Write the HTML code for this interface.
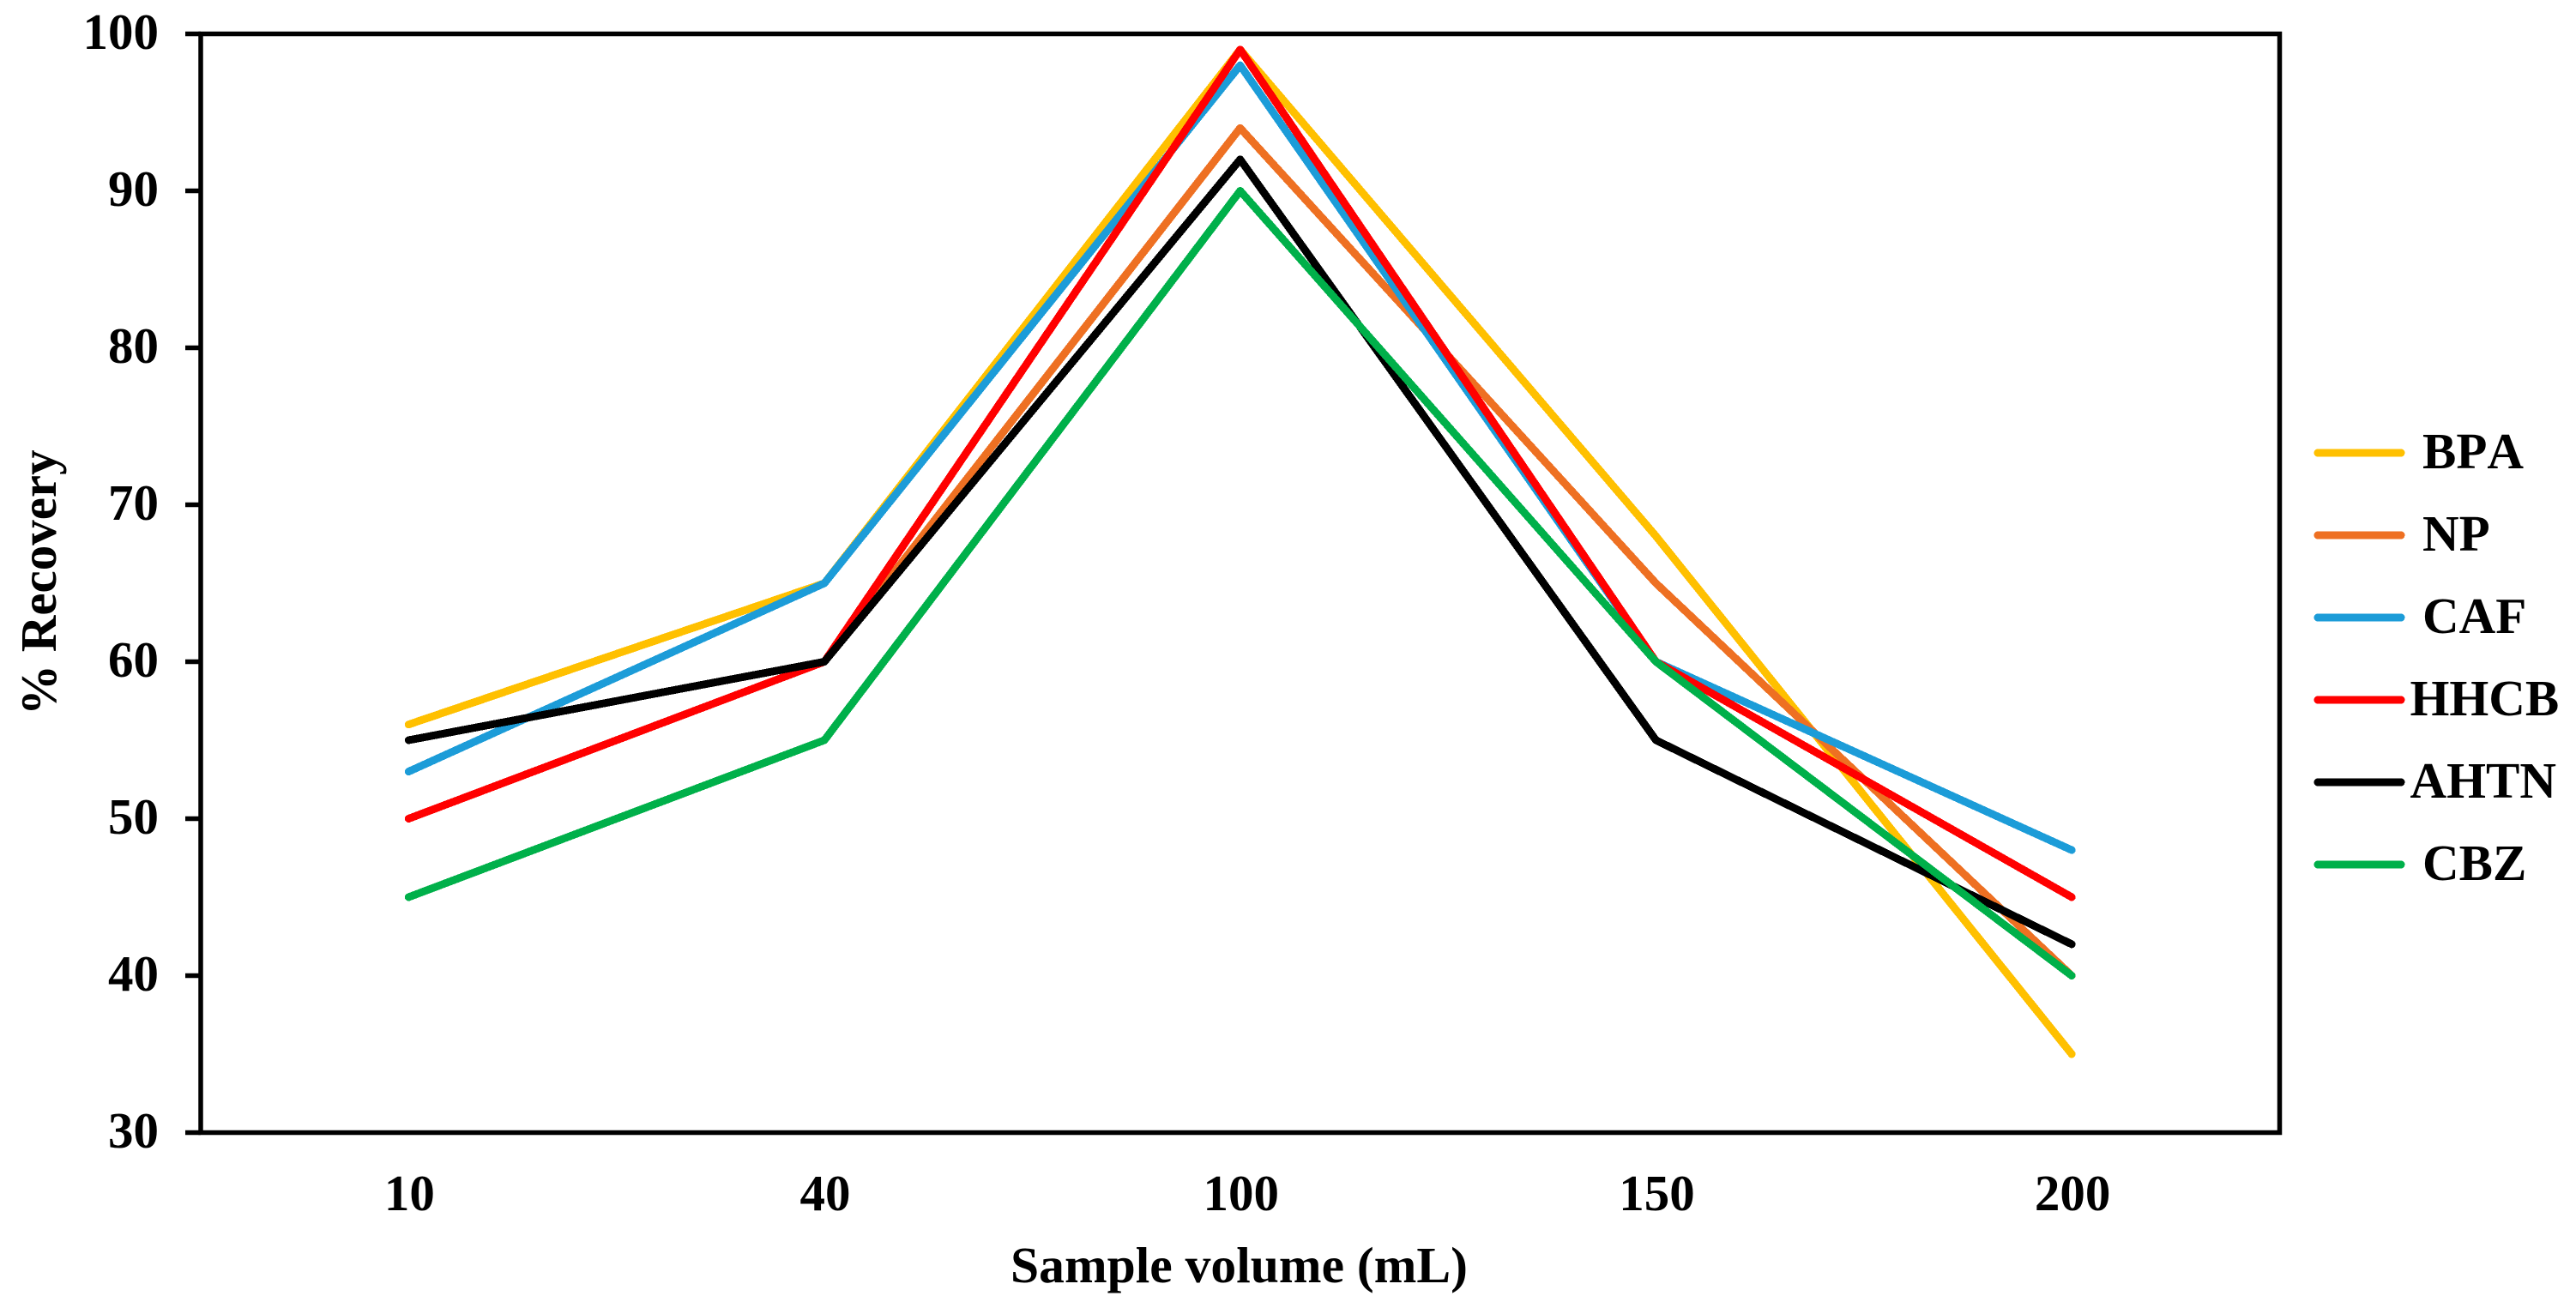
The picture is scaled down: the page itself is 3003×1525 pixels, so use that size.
<!DOCTYPE html>
<html lang="en">
<head>
<meta charset="utf-8">
<title>% Recovery vs Sample volume</title>
<style>
html,body{margin:0;padding:0;background:#fff;width:3003px;height:1525px;overflow:hidden}
svg{display:block}
text{font-family:"Liberation Serif","Times New Roman",serif;font-weight:700;font-size:59px;fill:#000;font-kerning:none}
</style>
</head>
<body>
<svg id="chart" xmlns="http://www.w3.org/2000/svg" width="3003" height="1525" viewBox="0 0 3003 1525">
  <rect x="0" y="0" width="3003" height="1525" fill="#fff"/>
  <g id="series-layer"></g>
  <g id="axis-layer"></g>
  <g id="legend-layer"></g>
  <text x="1178" y="1495" style="font-size:59.6px">Sample volume (mL)</text>
  <text transform="translate(65 834) rotate(-90)">% Recovery</text>
</svg>
<script>
const categories = ['10', '40', '100', '150', '200'];
const yTickValues = [30, 40, 50, 60, 70, 80, 90, 100];
const seriesNames = ['BPA', 'NP', 'CAF', 'HHCB', 'AHTN', 'CBZ'];
const seriesColors = ['#FFC000', '#EE7022', '#1C9CD8', '#FF0000', '#000000', '#00B04A'];
const bpaValues = [56, 65, 99, 68, 35];
const npValues = [55, 60, 94, 65, 40];
const cafValues = [53, 65, 98, 60, 48];
const hhcbValues = [50, 60, 99, 60, 45];
const ahtnValues = [55, 60, 92, 55, 42];
const cbzValues = [45, 55, 90, 60, 40];
const seriesValues = [bpaValues, npValues, cafValues, hhcbValues, ahtnValues, cbzValues];

const NS = 'http://www.w3.org/2000/svg';
const plotLeft = 234, plotRight = 2657.5, plotTop = 39.5, plotBottom = 1320.5;
const yMin = 30, yMax = 100;

function xScale(i) {
  const band = (plotRight - plotLeft) / categories.length;
  return plotLeft + band * (i + 0.5);
}
function yScale(v) {
  return plotBottom - (v - yMin) / (yMax - yMin) * (plotBottom - plotTop);
}
function make(tag, attrs, parent) {
  const el = document.createElementNS(NS, tag);
  Object.keys(attrs).forEach(function (k) { el.setAttribute(k, attrs[k]); });
  parent.appendChild(el);
  return el;
}

const seriesLayer = document.getElementById('series-layer');
const axisLayer = document.getElementById('axis-layer');
const legendLayer = document.getElementById('legend-layer');

const frame = make('rect', {x: plotLeft, y: plotTop, width: plotRight - plotLeft, height: plotBottom - plotTop, fill: 'none', stroke: '#000', 'stroke-width': 5.5}, axisLayer);



yTickValues.forEach(function (v) {
  const tick = make('line', {x1: 216, x2: plotLeft, y1: yScale(v), y2: yScale(v), stroke: '#000', 'stroke-width': 5.5}, axisLayer);
  
  
  const label = make('text', {x: 185, y: yScale(v) + 17.5, 'text-anchor': 'end'}, axisLayer);
  label.textContent = String(v);
  
  
});

categories.forEach(function (c, i) {
  const label = make('text', {x: xScale(i) + 1, y: 1411, 'text-anchor': 'middle'}, axisLayer);
  label.textContent = c;
  
  
});

seriesValues.forEach(function (values, s) {
  const pts = values.map(function (v, i) { return xScale(i) + ',' + yScale(v); }).join(' ');
  const line = make('polyline', {points: pts, fill: 'none', stroke: seriesColors[s], 'stroke-width': 9, 'stroke-linecap': 'round', 'stroke-linejoin': 'round', 'shape-rendering': 'crispEdges'}, seriesLayer);
  
  
});

seriesNames.forEach(function (name, s) {
  const ly = 528 + s * 96;
  const swatch = make('line', {x1: 2702, x2: 2799, y1: ly, y2: ly, stroke: seriesColors[s], 'stroke-width': 9, 'stroke-linecap': 'round', 'shape-rendering': 'crispEdges'}, legendLayer);
  
  
  const label = make('text', {x: name.length > 3 ? 2809.5 : 2824, y: ly + 18}, legendLayer);
  label.textContent = name;
  
  
});
</script>
</body>
</html>
